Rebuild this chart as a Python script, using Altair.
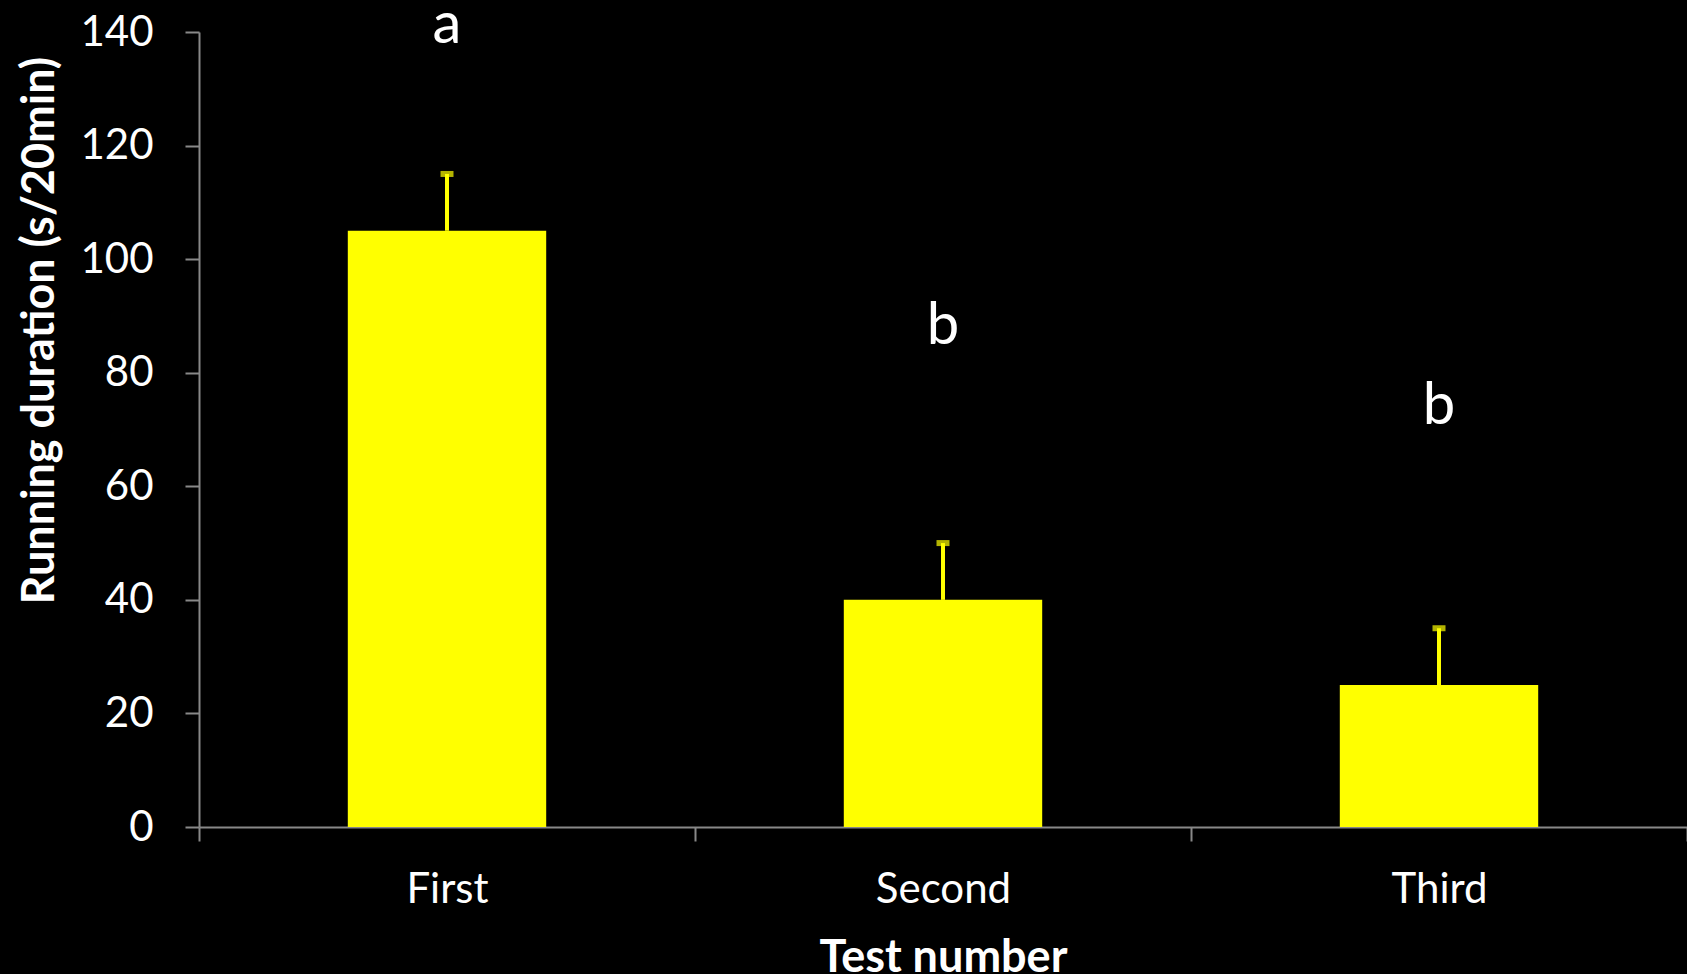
import altair as alt
import pandas as pd

# Running duration per test (mean with standard error) and significance letters
tests = ["First", "Second", "Third"]
means = [105, 40, 25]
sem = [10, 10, 10]
letters = ["a", "b", "b"]
letter_y = [138, 85, 71]

df = pd.DataFrame({
    "test": tests,
    "mean": means,
    "upper": [m + s for m, s in zip(means, sem)],
    "letter": letters,
    "letter_y": letter_y,
})

YELLOW = "#FFFF00"
AXIS_GREY = "#888888"
FONT = "Lato"

x_enc = alt.X(
    "test:N",
    sort=tests,
    scale=alt.Scale(paddingInner=0, paddingOuter=0),
    axis=alt.Axis(
        title="Test number",
        titleFont=FONT,
        titleFontSize=45,
        titleFontWeight="bold",
        titleColor="white",
        titleY=144,
        titleBaseline="alphabetic",
        labelFont=FONT,
        labelFontSize=42,
        labelColor="white",
        labelAngle=0,
        labelPadding=28,
        domainColor=AXIS_GREY,
        domainWidth=2,
        tickColor=AXIS_GREY,
        tickWidth=2,
        tickSize=14,
        tickBand="extent",
    ),
)

y_axis = alt.Axis(
    title="Running duration (s/20min)",
    titleFont=FONT,
    titleFontSize=45,
    titleFontWeight="bold",
    titleColor="white",
    titleAngle=-90,
    titleAlign="center",
    titleBaseline="alphabetic",
    titleX=-146,
    titleY=298,
    values=[0, 20, 40, 60, 80, 100, 120, 140],
    labelFont=FONT,
    labelFontSize=42,
    labelColor="white",
    labelPadding=32,
    domainColor=AXIS_GREY,
    domainWidth=2,
    tickColor=AXIS_GREY,
    tickWidth=2,
    tickSize=14,
    grid=False,
)
y_scale = alt.Scale(domain=[0, 140], nice=False)

base = alt.Chart(df)

bars = base.mark_bar(color=YELLOW, width=alt.RelativeBandSize(0.4)).encode(
    x=x_enc,
    y=alt.Y("mean:Q", scale=y_scale, axis=y_axis),
)

err = base.mark_rule(color=YELLOW, strokeWidth=4).encode(
    x=alt.X("test:N", sort=tests),
    y=alt.Y("mean:Q"),
    y2="upper:Q",
)

caps = base.mark_tick(color=YELLOW, thickness=6, size=13, orient="horizontal").encode(
    x=alt.X("test:N", sort=tests),
    y=alt.Y("upper:Q"),
)

marks = base.mark_text(
    font=FONT, fontSize=58, color="white", baseline="alphabetic", align="center"
).encode(
    x=alt.X("test:N", sort=tests),
    y=alt.Y("letter_y:Q"),
    text="letter:N",
)

chart = (
    alt.layer(bars, err, caps, marks)
    .properties(
        width=1488,
        height=795,
        background="black",
        autosize=alt.AutoSizeParams(type="none"),
        padding={"left": 199, "top": 32, "right": 0, "bottom": 147},
    )
    .configure_view(stroke=None)
)

chart.save("out.html", embed_options={"renderer": "svg", "actions": False})
